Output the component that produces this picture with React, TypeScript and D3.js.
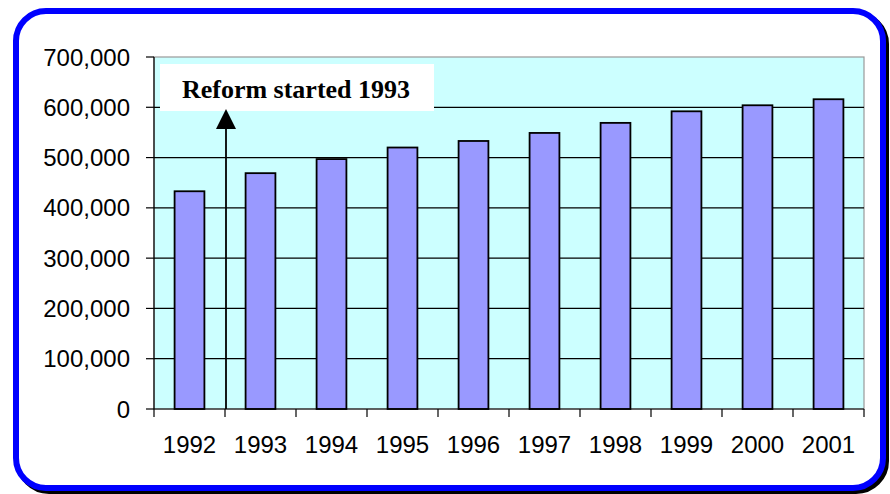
import * as d3 from "d3";

const years = ["1992", "1993", "1994", "1995", "1996", "1997", "1998", "1999", "2000", "2001"];
const values = [433000, 469000, 497000, 520000, 533000, 549000, 569000, 592000, 604000, 616000];
const yTicks = [0, 100000, 200000, 300000, 400000, 500000, 600000, 700000];
const noteText = "Reform started 1993";
const noteYear = "1993";

export default function App() {
  const width = 890;
  const height = 494;
  const plotLeft = 154;
  const plotRight = 864;
  const plotTop = 57;
  const plotBottom = 409;

  const x = d3.scaleBand().domain(years).range([plotLeft, plotRight]).paddingInner(0.58).paddingOuter(0.29);
  const band = d3.scaleBand().domain(years).range([plotLeft, plotRight]);
  const y = d3.scaleLinear().domain([0, 700000]).range([plotBottom, plotTop]);
  const fmt = d3.format(",");

  // arrow sits on the boundary between 1992 and 1993
  const arrowX = band(noteYear)! + 1;

  return (
    <svg width={width} height={height} style={{ position: "absolute", left: 0, top: 0 }}>
      <rect x={0} y={0} width={width} height={height} fill="#fff" />
      {/* frame with shadow */}
      <rect x={19} y={14} width={867} height={477} rx={30} fill="none" stroke="#000" strokeWidth={6} />
      <rect x={16} y={11} width={867} height={477} rx={30} fill="#fff" stroke="#0000ff" strokeWidth={6} />

      {/* plot area */}
      <rect x={plotLeft} y={plotTop} width={plotRight - plotLeft} height={plotBottom - plotTop} fill="#ccffff" stroke="#999" strokeWidth={1.2} />

      {yTicks.map((t) => (
        <g key={t}>
          {t > 0 && t < 700000 && (
            <line x1={plotLeft} x2={plotRight} y1={y(t)} y2={y(t)} stroke="#000" strokeWidth={1.2} />
          )}
          <line x1={plotLeft - 8} x2={plotLeft} y1={y(t)} y2={y(t)} stroke="#000" strokeWidth={1.2} />
          <text
            x={130}
            y={y(t)}
            textAnchor="end"
            dominantBaseline="central"
            fontFamily="Liberation Sans, Arial, sans-serif"
            fontSize={24}
            fill="#000"
          >
            {fmt(t)}
          </text>
        </g>
      ))}

      {years.map((yr, i) => (
        <rect
          key={yr}
          x={x(yr)}
          y={y(values[i])}
          width={x.bandwidth()}
          height={plotBottom - y(values[i])}
          fill="#9999ff"
          stroke="#000"
          strokeWidth={1.8}
        />
      ))}

      {/* axes */}
      <line x1={plotLeft} x2={plotLeft} y1={plotTop} y2={plotBottom} stroke="#000" strokeWidth={1.2} />
      <line x1={plotLeft} x2={plotRight} y1={plotBottom} y2={plotBottom} stroke="#000" strokeWidth={1.2} />
      {years.concat(["end"]).map((yr, i) => {
        const tx = plotLeft + i * band.bandwidth();
        return <line key={yr} x1={tx} x2={tx} y1={plotBottom} y2={plotBottom + 8} stroke="#000" strokeWidth={1.2} />;
      })}
      {years.map((yr) => (
        <text
          key={yr}
          x={band(yr)! + band.bandwidth() / 2}
          y={452.5}
          textAnchor="middle"
          fontFamily="Liberation Sans, Arial, sans-serif"
          fontSize={24}
          fill="#000"
        >
          {yr}
        </text>
      ))}

      {/* annotation */}
      <rect x={160} y={64} width={274} height={47} fill="#fff" />
      <text
        x={296}
        y={98}
        textAnchor="middle"
        fontFamily="Liberation Serif, Times New Roman, serif"
        fontWeight="bold"
        fontSize={26}
        fill="#000"
      >
        {noteText}
      </text>
      <line x1={arrowX} x2={arrowX} y1={plotBottom} y2={128} stroke="#000" strokeWidth={1.8} />
      <path d={`M${arrowX},109 L${arrowX - 10},129 L${arrowX + 10},129 Z`} fill="#000" />
    </svg>
  );
}
